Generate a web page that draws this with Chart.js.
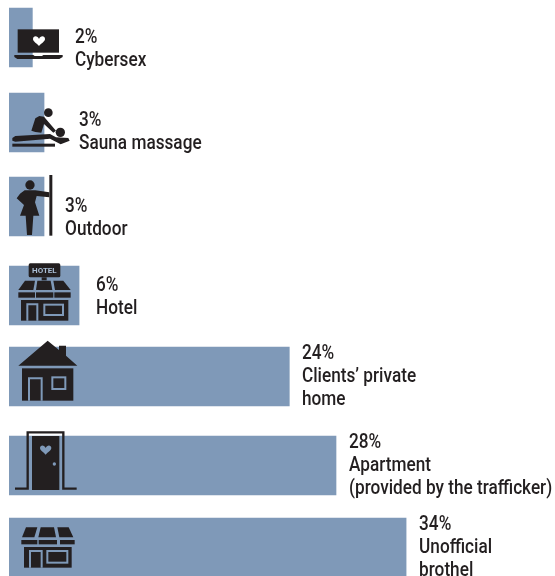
<!DOCTYPE html>
<html>
<head>
<meta charset="utf-8">
<title>Places of exploitation</title>
<script src="https://cdn.jsdelivr.net/npm/chart.js@4"></script>
<style>
html, body { margin: 0; padding: 0; background: #fff; overflow: hidden; }
canvas { display: block; }
</style>
</head>
<body>
<canvas id="myChart" width="555" height="576"></canvas>
<script>
// values
var categories = [
    ['Cybersex'],
    ['Sauna massage'],
    ['Outdoor'],
    ['Hotel'],
    ['Clients\u2019 private', 'home'],
    ['Apartment', '(provided by the trafficker)'],
    ['Unofficial', 'brothel']
];
var shares = [2, 3, 3, 6, 24, 28, 34];

// layout, kept apart from the data
var rowCentres = [37.5, 122.5, 206.5, 295.5, 376.5, 465.5, 547.5];
var labelGaps = [42.6, 35, 21, 17, 12.7, 13, 13];
var labelTops = [43, 126, 212, 291, 359, 448, 530];

var BAR = '#7f99b8';
var INK = '#231f20';
var LINE_H = 23.2;

function poly(ctx, pts) {
    ctx.beginPath();
    pts.forEach(function (p, i) {
        if (i === 0) ctx.moveTo(p[0], p[1]); else ctx.lineTo(p[0], p[1]);
    });
    ctx.closePath();
    ctx.fill();
}

function disc(ctx, x, y, r) {
    ctx.beginPath();
    ctx.arc(x, y, r, 0, Math.PI * 2);
    ctx.fill();
}

function heart(ctx, x, y, w) {
    var h = w * 0.85;
    ctx.beginPath();
    ctx.moveTo(x, y + h / 2);
    ctx.bezierCurveTo(x - w * 0.2, y + h * 0.2, x - w / 2, y + h * 0.05, x - w / 2, y - h * 0.2);
    ctx.bezierCurveTo(x - w / 2, y - h * 0.55, x - w * 0.1, y - h * 0.55, x, y - h * 0.2);
    ctx.bezierCurveTo(x + w * 0.1, y - h * 0.55, x + w / 2, y - h * 0.55, x + w / 2, y - h * 0.2);
    ctx.bezierCurveTo(x + w / 2, y + h * 0.05, x + w * 0.2, y + h * 0.2, x, y + h / 2);
    ctx.fill();
}

// solid block with door and window cut in the bar colour
function block(ctx, box, door, win) {
    ctx.fillStyle = INK;
    ctx.fillRect(box[0], box[1], box[2] - box[0], box[3] - box[1]);
    ctx.strokeStyle = BAR;
    ctx.lineWidth = 6;
    ctx.beginPath();
    ctx.moveTo(door[0], door[3]);
    ctx.lineTo(door[0], door[1]);
    ctx.lineTo(door[2], door[1]);
    ctx.lineTo(door[2], door[3]);
    ctx.stroke();
    ctx.strokeRect(win[0], win[1], win[2] - win[0], win[3] - win[1]);
}

// each icon is in 3x units, ox/oy being the bar corner in those units
var icons = [
    { ox: 27, oy: 24, draw: function (ctx) {
        ctx.fillStyle = INK;
        ctx.fillRect(53, 88, 124, 70);
        poly(ctx, [[43, 165], [100, 165], [104, 168], [126, 168], [130, 165], [188, 165], [188, 171], [178, 177], [52, 177], [43, 171]]);
        ctx.fillStyle = '#fff';
        heart(ctx, 117, 123, 36);
    } },
    { ox: 27, oy: 279, draw: function (ctx) {
        ctx.fillStyle = INK;
        disc(ctx, 145, 338, 13);
        disc(ctx, 181, 397, 14);
        poly(ctx, [[94, 392], [106, 355], [118, 348], [132, 350], [168, 392], [160, 398], [132, 372], [124, 398], [106, 396]]);
        poly(ctx, [[37, 414], [46, 408], [150, 402], [168, 412], [205, 414], [209, 422], [182, 433], [150, 416], [46, 425], [37, 422]]);
        ctx.fillRect(37, 431, 128, 9);
    } },
    { ox: 27, oy: 36, draw: function (ctx) {
        ctx.fillStyle = INK;
        ctx.fillRect(148, 30, 9, 182);
        disc(ctx, 90, 60, 14);
        poly(ctx, [[74, 76], [106, 76], [148, 82], [148, 97], [110, 93], [105, 112], [118, 152], [100, 152], [96, 210], [81, 210], [77, 152], [60, 152], [72, 120], [50, 100], [60, 86]]);
    } },
    { ox: 27, oy: 303, draw: function (ctx) {
        ctx.fillStyle = INK;
        ctx.beginPath();
        ctx.roundRect(86, 295, 95, 42, 5);
        ctx.fill();
        ctx.fillRect(125, 337, 15, 9);
        poly(ctx, [[75, 347], [105, 347], [100, 375], [55, 375]]);
        poly(ctx, [[112, 347], [152, 347], [157, 375], [108, 375]]);
        poly(ctx, [[160, 347], [190, 347], [212, 375], [165, 375]]);
        ctx.fillRect(55, 382, 50, 16);
        ctx.fillRect(108, 382, 52, 16);
        ctx.fillRect(163, 382, 49, 16);
        ctx.fillStyle = '#a9bdd4';
        ctx.font = 'bold 24px Roboto';
        ctx.textAlign = 'center';
        ctx.textBaseline = 'middle';
        ctx.fillText('HOTEL', 133, 317, 80);
        block(ctx, [63, 405, 205, 467], [82, 418, 112, 467], [133, 419, 189, 450]);
    } },
    { ox: 27, oy: 36, draw: function (ctx) {
        ctx.fillStyle = INK;
        poly(ctx, [[143, 17], [177, 45], [177, 32], [198, 32], [198, 62], [232, 92], [55, 92]]);
        block(ctx, [66, 100, 220, 197], [87, 130, 125, 197], [157, 127, 196, 162]);
    } },
    { ox: 27, oy: 303, draw: function (ctx) {
        ctx.strokeStyle = INK;
        ctx.lineWidth = 7;
        ctx.beginPath();
        ctx.moveTo(45, 461);
        ctx.lineTo(83, 461);
        ctx.lineTo(83, 292);
        ctx.lineTo(190, 292);
        ctx.lineTo(190, 461);
        ctx.lineTo(230, 461);
        ctx.stroke();
        ctx.fillStyle = INK;
        ctx.fillRect(96, 303, 82, 162);
        ctx.fillStyle = BAR;
        heart(ctx, 137, 345, 34);
        disc(ctx, 163, 387, 5);
    } },
    { ox: 27, oy: 549, draw: function (ctx) {
        ctx.fillStyle = INK;
        poly(ctx, [[78, 577], [112, 577], [103, 607], [66, 607]]);
        poly(ctx, [[122, 577], [162, 577], [168, 607], [115, 607]]);
        poly(ctx, [[172, 577], [206, 577], [220, 607], [178, 607]]);
        ctx.fillRect(64, 615, 48, 13);
        ctx.fillRect(116, 615, 55, 13);
        ctx.fillRect(180, 615, 44, 13);
        block(ctx, [72, 636, 215, 698], [90, 648, 125, 698], [142, 648, 202, 683]);
    } }
];

var labelPlugin = {
    id: 'iconsAndLabels',
    afterDatasetsDraw: function (chart) {
        var ctx = chart.ctx;
        var bars = chart.getDatasetMeta(0).data;
        bars.forEach(function (bar, i) {
            var top = bar.y - bar.height / 2;

            ctx.save();
            ctx.translate(bar.base, top);
            ctx.scale(1 / 3, 1 / 3);
            ctx.translate(-icons[i].ox, -icons[i].oy);
            icons[i].draw(ctx);
            ctx.restore();

            // Roboto squeezed to get the condensed look
            var lines = [shares[i] + '%'].concat(categories[i]);
            ctx.save();
            ctx.fillStyle = INK;
            ctx.font = '500 20px Roboto';
            ctx.textAlign = 'left';
            ctx.textBaseline = 'alphabetic';
            lines.forEach(function (line, k) {
                ctx.save();
                ctx.translate(bar.x + labelGaps[i], labelTops[i] + k * LINE_H);
                ctx.scale(0.86, 1);
                ctx.fillText(line, 0, 0);
                ctx.restore();
            });
            ctx.restore();
        });
    }
};

new Chart(document.getElementById('myChart').getContext('2d'), {
    type: 'bar',
    data: {
        datasets: [{
            data: shares.map(function (v, i) { return { x: v, y: rowCentres[i] }; }),
            backgroundColor: BAR,
            borderWidth: 0,
            barThickness: 59
        }]
    },
    options: {
        indexAxis: 'y',
        responsive: false,
        animation: false,
        layout: { padding: { left: 9 } },
        plugins: { legend: { display: false }, tooltip: { enabled: false }, title: { display: false } },
        scales: {
            x: { type: 'linear', min: 0, max: 46.75, display: false },
            y: { type: 'linear', min: 0, max: 576, reverse: true, offset: false, display: false }
        }
    },
    plugins: [labelPlugin]
});
</script>
</body>
</html>
